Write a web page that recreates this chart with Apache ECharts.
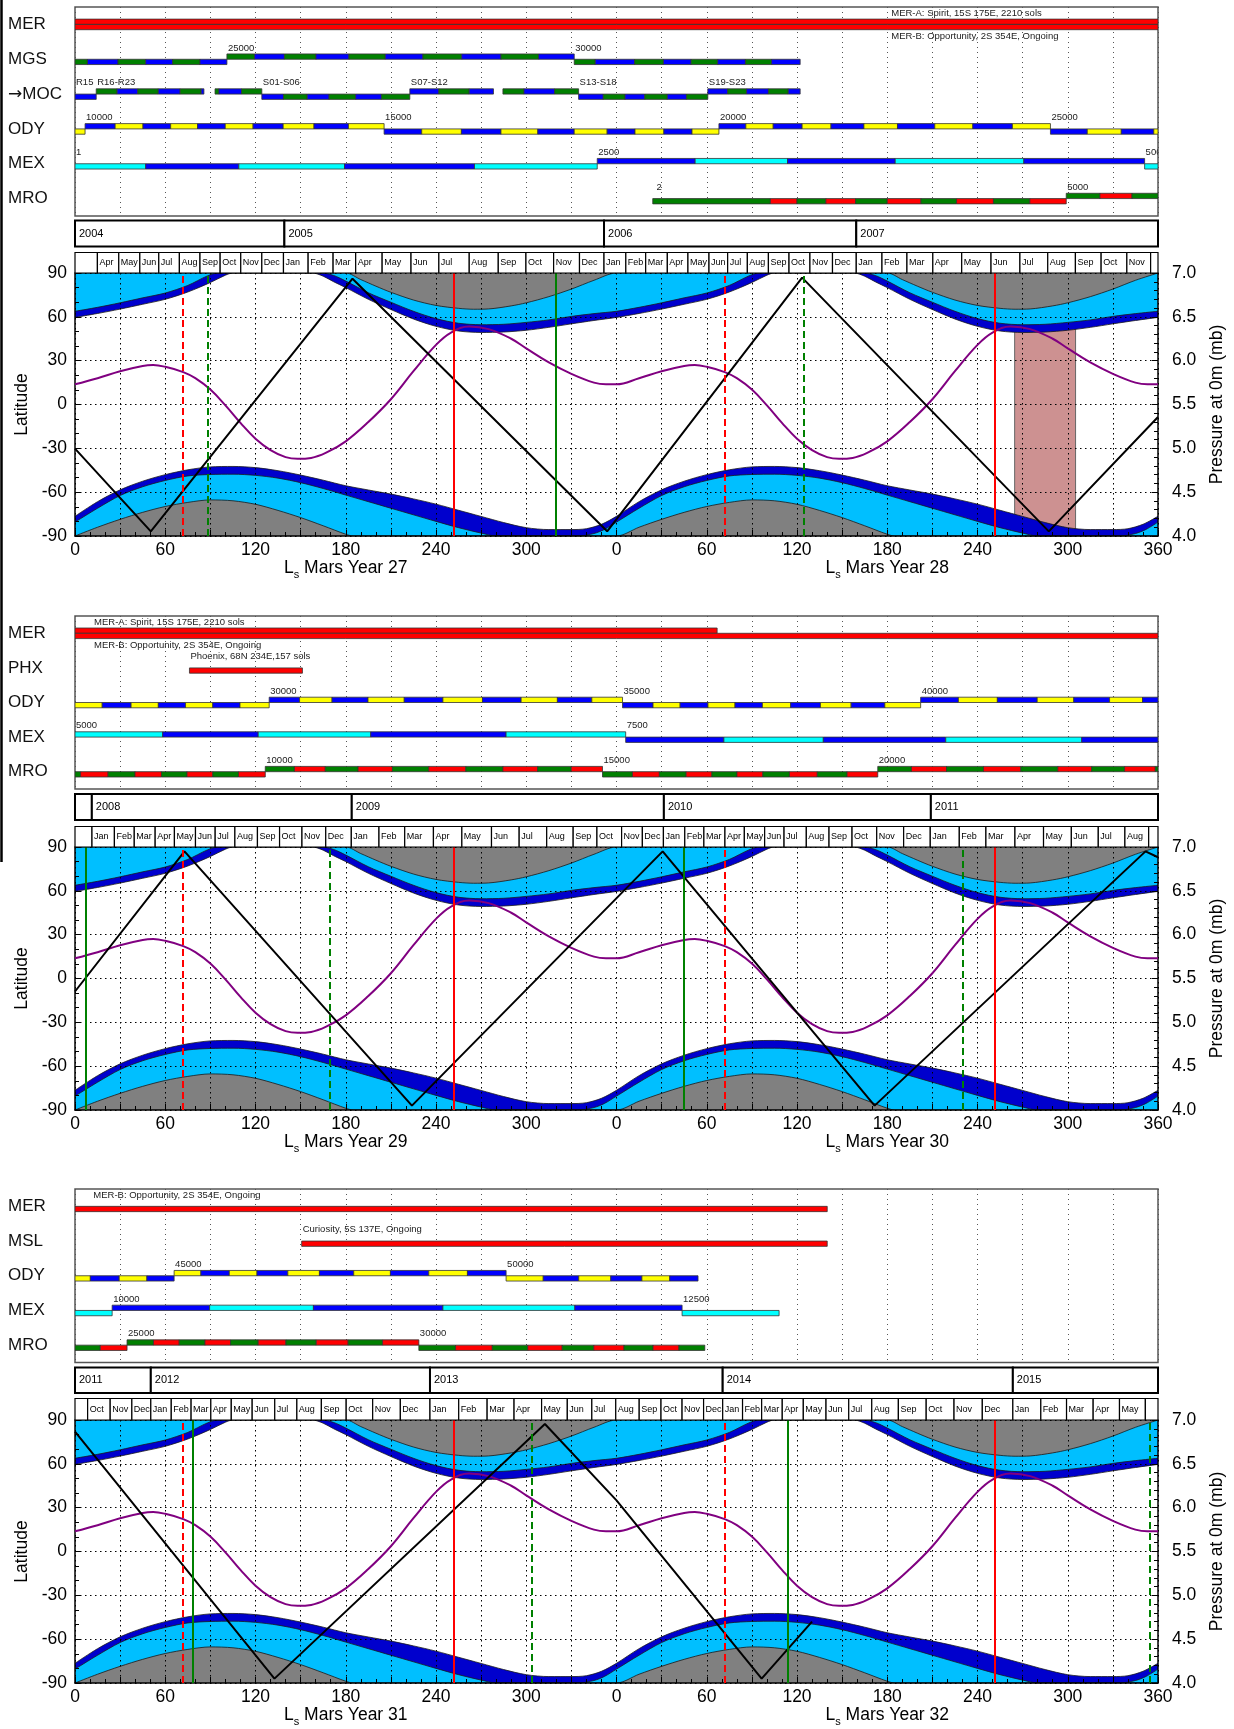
<!DOCTYPE html>
<html>
<head>
<meta charset="utf-8">
<script src="https://cdn.jsdelivr.net/npm/echarts@6.0.0/dist/echarts.min.js"></script>
<style>
  html, body { margin: 0; padding: 0; background: #fff; }
  #chart { width: 1234px; height: 1729px; }
</style>
</head>
<body>
<div id="chart"></div>
<script>
// ---------------- shared Mars-year climatology (Ls 0..360) ----------------
const northOuter = [[0,59.6],[15,62.3],[30,65.3],[45,68.6],[60,72.0],[75,77.0],[90,83.5],[100,88.5],[105,90],[158,90],[165,87.8],[172,84.0],[180,80.0],[195,72.0],[210,65.0],[225,58.5],[240,53.5],[255,50.3],[270,49.3],[285,49.6],[300,50.8],[315,52.8],[330,55.2],[345,57.5],[360,59.6]];
const northInner = [[0,63.8],[15,66.5],[30,69.6],[45,73.0],[60,76.3],[75,81.5],[88,88.0],[95,90],[164,90],[172,88.3],[180,84.5],[195,76.5],[210,70.0],[225,63.8],[240,58.8],[255,55.6],[270,54.6],[285,54.9],[300,56.2],[315,57.9],[330,60.3],[345,62.2],[360,63.8]];
const northGrey  = [[0,90],[180,90],[190,85.5],[200,81.0],[210,76.8],[225,71.5],[240,67.8],[255,65.8],[265,65.2],[275,65.4],[290,67.5],[300,69.6],[315,73.8],[330,79.0],[345,85.0],[360,90]];
const southOuter = [[0,-76.5],[15,-66.5],[30,-58.4],[45,-52.5],[60,-48.0],[75,-44.7],[90,-42.7],[105,-42.4],[120,-43.2],[135,-45.3],[150,-48.3],[165,-51.8],[180,-55.6],[195,-58.5],[210,-61.3],[225,-64.6],[240,-68.2],[255,-72.4],[270,-76.6],[285,-80.8],[300,-84.3],[315,-85.6],[330,-85.6],[340,-85.0],[350,-82.0],[360,-76.5]];
const southInner = [[0,-80.5],[15,-71.0],[30,-62.3],[45,-56.3],[60,-52.0],[75,-48.9],[90,-47.9],[105,-47.7],[120,-48.5],[135,-50.4],[150,-53.5],[165,-57.5],[180,-62.0],[195,-66.5],[210,-71.0],[225,-75.5],[240,-80.0],[255,-84.3],[270,-88.0],[280,-90],[335,-90],[345,-88.3],[352,-85.5],[360,-80.5]];
const southGrey  = [[0,-90],[15,-84.0],[30,-78.6],[45,-73.8],[60,-69.8],[75,-67.0],[90,-65.3],[105,-65.9],[120,-68.3],[135,-72.5],[150,-77.4],[165,-83.0],[180,-88.8],[185,-90],[360,-90]];
const pressure   = [[0,5.73],[15,5.80],[30,5.88],[45,5.94],[52,5.95],[60,5.93],[72,5.87],[80,5.80],[90,5.67],[100,5.49],[110,5.29],[120,5.11],[130,4.98],[140,4.90],[148,4.88],[157,4.89],[167,4.95],[180,5.08],[195,5.30],[210,5.56],[225,5.88],[240,6.18],[250,6.32],[262,6.39],[275,6.36],[290,6.25],[300,6.14],[315,5.98],[330,5.85],[345,5.75],[353,5.73],[360,5.73]];
const aphelionLs   = [71.8, 431.8];
const perihelionLs = [251.6, 611.6];
const MONTHS = ['Jan','Feb','Mar','Apr','May','Jun','Jul','Aug','Sep','Oct','Nov','Dec'];

// ---------------- panel 1: Mars years 27-28 ----------------
const p1Rows = ['MER', 'MGS', '→MOC', 'ODY', 'MEX', 'MRO'];
const p1MerA = [0, 720];
const p1MerB = [0, 720];
const p1MgsEdges = [0, 8.3, 28.6, 47.0, 64.9, 83.1, 101.0, 119.4, 139.2, 160.2, 182.1, 206.3, 231.3, 257.1, 283.2, 308.2, 331.9, 345.9, 372.0, 391.2, 409.6, 427.3, 445.7, 463.1, 482.1];
const p1MgsColours = 'gbgbgb' + 'gbgbgbgbgb' + 'gbgbgbgb';
const p1MgsLevels  = '000000' + '1111111111' + '00000000';
const p1MocEdges = [0, 14.1, 28.0, 41.7, 55.4, 69.9, 83.9, 85.7, 93.1, 95.7, 110.7, 124.2, 138.6, 154.4, 168.9, 186.6, 203.7, 222.6, 241.9, 262.1, 278.2, 284.5, 298.5, 318.8, 334.8, 351.2, 365.7, 378.8, 393.8, 406.5, 420.7, 433.9, 446.5, 461.0, 474.2, 482.1];
const p1MocColours = 'bgbgbgb-gbg' + 'bgbgbg' + 'bgb-gbg' + 'bgbgbg' + 'bgbgb';
const p1MocLevels  = '01111111111' + '000000' + '1111111' + '000000' + '11111';
const p1OdyEdges = [0, 6.7, 26.7, 45.2, 63.6, 81.5, 99.9, 118.4, 138.4, 158.9, 181.8, 205.5, 230.5, 256.9, 283.2, 307.7, 331.9, 353.8, 372.3, 391.5, 410.2, 428.1, 446.0, 464.2, 483.4, 502.6, 524.5, 546.8, 571.6, 596.9, 623.2, 648.5, 673.0, 695.6, 717.2, 720];
const p1OdyColours = 'y' + 'bybybybyby' + 'bybybybyby' + 'bybybybyby' + 'byby';
const p1OdyLevels  = '0' + '1111111111' + '0000000000' + '1111111111' + '0000';
const p1MexEdges = [0, 47.0, 108.9, 179.2, 265.6, 347.2, 412.3, 473.7, 545.3, 630.8, 711.1, 720];
const p1MexColours = 'cbcbc' + 'bcbcb' + 'c';
const p1MexLevels  = '00000' + '11111' + '0';
const p1MroEdges = [384.1, 462.3, 480.0, 499.2, 518.9, 540.0, 562.4, 586.1, 610.6, 634.8, 659.0, 681.4, 702.7, 720];
const p1MroColours = 'grgrgrgrgr' + 'grg';
const p1MroLevels  = '0000000000' + '111';
const p1Tags = [[1, 101.0, '25000'], [1, 331.9, '30000'], [2, 0, 'R15'], [2, 14.1, 'R16-R23'], [2, 124.2, 'S01-S06'], [2, 222.6, 'S07-S12'], [2, 334.8, 'S13-S18'], [2, 420.7, 'S19-S23'], [3, 6.7, '10000'], [3, 205.5, '15000'], [3, 428.1, '20000'], [3, 648.5, '25000'], [4, 0, '1'], [4, 347.2, '2500'], [4, 711.1, '5000'], [5, 386, '2'], [5, 659.0, '5000']];
const p1Notes = [[0, 542, 'up', 'MER-A: Spirit, 15S 175E, 2210 sols'], [0, 542, 'down', 'MER-B: Opportunity, 2S 354E, Ongoing']];
const p1YearEdges = [0, 139.2, 351.7, 519.4, 720];
const p1YearLabels = ['2004', '2005', '2006', '2007'];
const p1MonthEdges = [0, 14.9, 29.1, 43.1, 55.7, 69.4, 83.1, 96.5, 110.2, 124.2, 138.6, 155.0, 171.6, 186.6, 204.2, 223.4, 241.9, 262.1, 281.4, 299.8, 318.2, 335.4, 351.7, 366.2, 379.4, 393.8, 407.5, 421.5, 433.9, 447.0, 461.0, 474.7, 488.6, 503.6, 519.4, 536.5, 553.1, 570.3, 589.5, 609.0, 628.2, 646.7, 665.1, 682.2, 699.3, 715.1, 720];
const p1MonthLabels = ['', ...MONTHS.slice(3), ...MONTHS, ...MONTHS, ...MONTHS.slice(0, 11), ''];
const p1Track = [[0,-30.2],[50.4,-86.8],[184.5,86.1],[353.8,-86.8],[483.4,86.8],[647.4,-86.8],[720,-8.6]];
const p1GreenSolid = [319.3];
const p1GreenDash = [88.3, 484.4];
const p1Shade = [624.7, 665.2];

// ---------------- panel 2: Mars years 29-30 ----------------
const p2Rows = ['MER', 'PHX', 'ODY', 'MEX', 'MRO'];
const p2MerA = [0, 426.9];
const p2MerB = [0, 720];
const p2Phx = [76.1, 151.2];
const p2OdyEdges = [0, 18.1, 37.3, 55.4, 73.5, 91.6, 109.7, 129.1, 149.3, 170.9, 194.8, 218.9, 244.6, 270.9, 296.6, 320.7, 343.6, 364.0, 384.3, 402.3, 420.8, 438.8, 457.0, 475.8, 495.6, 516.0, 538.4, 562.2, 587.3, 613.2, 639.7, 664.0, 687.8, 709.7, 720];
const p2OdyColours = 'ybybyby' + 'bybybybyby' + 'bybybybyby' + 'bybybyb';
const p2OdyLevels  = '0000000' + '1111111111' + '0000000000' + '1111111';
const p2MexEdges = [0, 58.3, 121.8, 196.6, 286.6, 366.1, 431.4, 497.5, 578.9, 669.3, 720];
const p2MexColours = 'cbcbc' + 'bcbcb';
const p2MexLevels  = '11111' + '00000';
const p2MroEdges = [0, 3.7, 22.0, 39.9, 57.5, 74.5, 91.6, 108.7, 126.5, 145.9, 166.4, 188.2, 211.0, 235.2, 259.8, 284.5, 307.6, 329.9, 350.7, 370.6, 388.5, 406.3, 423.4, 440.1, 457.3, 475.0, 493.5, 513.3, 533.7, 556.1, 579.4, 604.0, 628.8, 653.4, 675.9, 697.8, 718.2, 720];
const p2MroColours = 'grgrgrgr' + 'grgrgrgrgr' + 'grgrgrgrgr' + 'grgrgrgrg';
const p2MroLevels  = '00000000' + '1111111111' + '0000000000' + '111111111';
const p2Tags = [[2, 129.1, '30000'], [2, 364.0, '35000'], [2, 562.2, '40000'], [3, 0, '5000'], [3, 366.1, '7500'], [4, 126.5, '10000'], [4, 350.7, '15000'], [4, 533.7, '20000']];
const p2Notes = [[0, 12, 'up', 'MER-A: Spirit, 15S 175E, 2210 sols'], [0, 12, 'down', 'MER-B: Opportunity, 2S 354E, Ongoing'], [1, 76.1, 'up', 'Phoenix, 68N 234E,157 sols']];
const p2YearEdges = [0, 11.2, 184.0, 391.5, 569.0, 720];
const p2YearLabels = ['', '2008', '2009', '2010', '2011'];
const p2MonthEdges = [0, 11.3, 26.2, 39.4, 53.3, 66.1, 80.1, 93.2, 106.3, 121.3, 136.0, 150.9, 166.7, 183.7, 202.1, 219.2, 238.3, 257.2, 276.9, 295.3, 313.6, 331.2, 347.0, 363.4, 377.2, 391.2, 405.4, 418.1, 432.1, 445.0, 458.5, 471.4, 486.2, 501.3, 516.6, 533.0, 550.9, 568.6, 587.9, 605.6, 624.9, 643.9, 662.4, 680.3, 698.0, 713.8, 720];
const p2MonthLabels = ['', ...MONTHS, ...MONTHS, ...MONTHS, ...MONTHS.slice(0, 8), ''];
const p2Track = [[0,-8.9],[72.8,87],[224,-87],[390.7,87],[531.6,-87],[711.7,87],[720,83]];
const p2GreenSolid = [7.3, 404.4];
const p2GreenDash = [169.3, 590.3];

// ---------------- panel 3: Mars years 31-32 ----------------
const p3Rows = ['MER', 'MSL', 'ODY', 'MEX', 'MRO'];
const p3MerB = [0, 500.1];
const p3Msl = [150.7, 500.1];
const p3OdyEdges = [0, 10.2, 29.4, 47.8, 65.9, 83.7, 102.6, 121.0, 141.5, 162.5, 185.3, 209.7, 235.2, 260.9, 286.6, 311.3, 334.9, 356.2, 376.9, 395.4, 414.2];
const p3OdyColours = 'ybyb' + 'ybybybybyb' + 'ybybyb';
const p3OdyLevels  = '0000' + '1111111111' + '000000';
const p3MexEdges = [0, 24.7, 89.5, 158.5, 244.6, 332.3, 403.6, 468.1];
const p3MexColours = 'c' + 'bcbcb' + 'c';
const p3MexLevels  = '0' + '11111' + '0';
const p3MroEdges = [0, 16.8, 34.6, 52.2, 69.3, 86.4, 103.4, 121.8, 140.2, 160.4, 181.6, 204.5, 228.6, 253.0, 277.4, 301.0, 323.9, 344.9, 365.0, 384.3, 401.5, 418.7];
const p3MroColours = 'gr' + 'grgrgrgrgr' + 'grgrgrgrg';
const p3MroLevels  = '00' + '1111111111' + '000000000';
const p3Tags = [[2, 65.9, '45000'], [2, 286.6, '50000'], [3, 24.7, '10000'], [3, 403.6, '12500'], [4, 34.6, '25000'], [4, 228.6, '30000']];
const p3Notes = [[0, 11.5, 'up', 'MER-B: Opportunity, 2S 354E, Ongoing'], [1, 150.7, 'up', 'Curiosity, 5S 137E, Ongoing']];
const p3YearEdges = [0, 50.4, 236.0, 430.6, 623.5, 720];
const p3YearLabels = ['2011', '2012', '2013', '2014', '2015'];
const p3MonthEdges = [0, 8.4, 23.4, 37.8, 50.4, 64.0, 77.2, 90.3, 103.9, 117.8, 132.8, 147.5, 163.8, 180.3, 197.9, 216.3, 236.0, 255.1, 274.0, 291.9, 310.2, 327.3, 343.6, 359.5, 375.1, 389.6, 403.6, 417.9, 430.6, 443.8, 456.5, 470.2, 484.2, 499.3, 514.4, 529.7, 547.4, 565.9, 584.4, 603.2, 623.5, 642.1, 659.2, 676.9, 694.4, 711.6, 720];
const p3MonthLabels = ['', ...MONTHS.slice(9), ...MONTHS, ...MONTHS, ...MONTHS, ...MONTHS.slice(0, 5), ''];
const p3Track = [[0,82],[132.6,-87],[312.4,87.3],[360,35],[456.5,-87],[490,-48]];
const p3GreenSolid = [78.4, 473.7];
const p3GreenDash = [303.4, 714.6];

// ---------------- helpers ----------------
const FONT = 'Liberation Sans, Arial, Helvetica, sans-serif';
const COLOURS = { r: '#ff0000', g: '#008000', b: '#0000ff', y: '#ffff00', c: '#00ffff' };
const L = 75, W = 1083, BAR_H = 5.3;

function segs(row, edges, colours, levels) {
  const out = [];
  for (let i = 0; i < edges.length - 1; i++) {
    if (colours[i] === '-') continue;
    out.push({ row: row, x0: edges[i], x1: edges[i + 1], c: colours[i], lvl: +levels[i] });
  }
  return out;
}
function twoYears(arr) {
  return arr.concat(arr.slice(1).map(d => [d[0] + 360, d[1]]));
}

const panels = [
  {
    rows: p1Rows,
    segs: [].concat(
      segs(0, p1MerA, 'r', '1'), segs(0, p1MerB, 'r', '0'),
      segs(1, p1MgsEdges, p1MgsColours, p1MgsLevels),
      segs(2, p1MocEdges, p1MocColours, p1MocLevels),
      segs(3, p1OdyEdges, p1OdyColours, p1OdyLevels),
      segs(4, p1MexEdges, p1MexColours, p1MexLevels),
      segs(5, p1MroEdges, p1MroColours, p1MroLevels)),
    tags: p1Tags, notes: p1Notes,
    yearEdges: p1YearEdges, yearLabels: p1YearLabels, monthEdges: p1MonthEdges, monthLabels: p1MonthLabels,
    track: p1Track, greenSolid: p1GreenSolid, greenDash: p1GreenDash, shade: p1Shade, years: [27, 28],
    box: { tlTop: 7, tlH: 209, hdTop: 220.5, hdH: 52.5, yearH: 26, monthTop: 32, plTop: 273, plH: 263 }
  },
  {
    rows: p2Rows,
    segs: [].concat(
      segs(0, p2MerA, 'r', '1'), segs(0, p2MerB, 'r', '0'),
      segs(1, p2Phx, 'r', '0'),
      segs(2, p2OdyEdges, p2OdyColours, p2OdyLevels),
      segs(3, p2MexEdges, p2MexColours, p2MexLevels),
      segs(4, p2MroEdges, p2MroColours, p2MroLevels)),
    tags: p2Tags, notes: p2Notes,
    yearEdges: p2YearEdges, yearLabels: p2YearLabels, monthEdges: p2MonthEdges, monthLabels: p2MonthLabels,
    track: p2Track, greenSolid: p2GreenSolid, greenDash: p2GreenDash, shade: null, years: [29, 30],
    box: { tlTop: 616, tlH: 173, hdTop: 794, hdH: 53, yearH: 26, monthTop: 32.5, plTop: 847, plH: 263 }
  },
  {
    rows: p3Rows,
    segs: [].concat(
      segs(0, p3MerB, 'r', '0'),
      segs(1, p3Msl, 'r', '0'),
      segs(2, p3OdyEdges, p3OdyColours, p3OdyLevels),
      segs(3, p3MexEdges, p3MexColours, p3MexLevels),
      segs(4, p3MroEdges, p3MroColours, p3MroLevels)),
    tags: p3Tags, notes: p3Notes,
    yearEdges: p3YearEdges, yearLabels: p3YearLabels, monthEdges: p3MonthEdges, monthLabels: p3MonthLabels,
    track: p3Track, greenSolid: p3GreenSolid, greenDash: p3GreenDash, shade: null, years: [31, 32],
    box: { tlTop: 1189, tlH: 173.5, hdTop: 1367.5, hdH: 52.5, yearH: 25.5, monthTop: 31, plTop: 1420, plH: 263 }
  }
];

const option = {
  animation: false,
  backgroundColor: '#fff',
  grid: [], xAxis: [], yAxis: [], series: [],
  graphic: [{ type: 'line', shape: { x1: 1.5, y1: 0, x2: 1.5, y2: 862 }, style: { stroke: '#000', lineWidth: 2.5 } }]
};

panels.forEach((pn, p) => {
  const b = pn.box;
  const gx = 3 * p, gy = 4 * p;
  option.grid.push({ left: L, width: W, top: b.tlTop, height: b.tlH, show: true, borderColor: '#555', borderWidth: 1.5, backgroundColor: '#fff' });
  option.grid.push({ left: L, width: W, top: b.hdTop, height: b.hdH });
  option.grid.push({ left: L, width: W, top: b.plTop, height: b.plH });

  // timeline axes
  option.xAxis.push({ gridIndex: gx, type: 'value', min: 0, max: 720, interval: 30,
    axisLine: { show: false, onZero: false }, axisTick: { show: false }, axisLabel: { show: false },
    splitLine: { show: true, lineStyle: { color: '#555', type: [1, 4], width: 1 } } });
  option.yAxis.push({ gridIndex: gx, type: 'category', data: pn.rows, inverse: true,
    axisLine: { show: false }, axisTick: { show: false }, splitLine: { show: false },
    axisLabel: { fontSize: 17, fontFamily: FONT, color: '#111', align: 'left', margin: 67,
      formatter: v => (v.charAt(0) === '→' ? '{a|→}' + v.slice(1) : v),
      rich: { a: { fontSize: 17, fontFamily: 'DejaVu Sans', color: '#111' } } } });
  // header axes
  option.xAxis.push({ gridIndex: gx + 1, type: 'value', min: 0, max: 720, show: false });
  option.yAxis.push({ gridIndex: gx + 1, type: 'value', min: 0, max: 1, inverse: true, show: false });
  // plot axes
  option.xAxis.push({ gridIndex: gx + 2, type: 'value', min: 0, max: 720, interval: 30, z: 3,
    axisLine: { show: true, onZero: false, lineStyle: { color: '#000', width: 1.5 } },
    axisTick: { show: true, inside: true, length: 6, lineStyle: { color: '#000' } },
    minorTick: { show: true, splitNumber: 3, length: 4, lineStyle: { color: '#000' } },
    axisLabel: { fontSize: 17.5, fontFamily: FONT, color: '#000', margin: 5,
      formatter: v => (v % 60 ? '' : (v === 720 ? '360' : String(v % 360))) },
    splitLine: { show: true, lineStyle: { color: '#000', type: [1.5, 3.5], width: 1 } } });
  option.yAxis.push({ gridIndex: gx + 2, type: 'value', min: -90, max: 90, interval: 30, position: 'left', z: 3,
    axisLine: { show: true, onZero: false, lineStyle: { color: '#000', width: 1.5 } },
    axisTick: { show: true, inside: true, length: 6, lineStyle: { color: '#000' } },
    minorTick: { show: true, splitNumber: 3, length: 4, lineStyle: { color: '#000' } },
    axisLabel: { fontSize: 17.5, fontFamily: FONT, color: '#000', margin: 8 },
    splitLine: { show: true, lineStyle: { color: '#000', type: [1.5, 3.5], width: 1 } },
    name: 'Latitude', nameLocation: 'middle', nameRotate: 90, nameGap: 44,
    nameTextStyle: { fontSize: 17.5, fontFamily: FONT, color: '#000' } });
  option.yAxis.push({ gridIndex: gx + 2, type: 'value', min: 4, max: 7, interval: 0.5, position: 'right', z: 3,
    axisLine: { show: true, onZero: false, lineStyle: { color: '#000', width: 1.5 } },
    axisTick: { show: true, inside: true, length: 6, lineStyle: { color: '#000' } },
    minorTick: { show: true, splitNumber: 5, length: 4, lineStyle: { color: '#000' } },
    axisLabel: { fontSize: 17.5, fontFamily: FONT, color: '#000', margin: 14, formatter: v => v.toFixed(1) },
    splitLine: { show: false },
    name: 'Pressure at 0m (mb)', nameLocation: 'middle', nameRotate: 90, nameGap: 50,
    nameTextStyle: { fontSize: 17.5, fontFamily: FONT, color: '#000' } });

  // timeline bars
  const sg = pn.segs;
  option.series.push({ type: 'custom', xAxisIndex: gx, yAxisIndex: gy, silent: true, clip: true, z: 3,
    encode: { x: [0, 1], y: 2 },
    data: sg.map(s => [s.x0, s.x1, s.row]),
    renderItem: (params, api) => {
      const s = sg[params.dataIndex];
      const a = api.coord([s.x0, s.row]);
      const c = api.coord([s.x1, s.row]);
      return { type: 'rect', shape: { x: a[0], y: s.lvl ? a[1] - BAR_H : a[1], width: c[0] - a[0], height: BAR_H },
        style: { fill: COLOURS[s.c], stroke: '#333', lineWidth: 0.8 } };
    } });

  // timeline texts (orbit numbers, mission notes)
  const texts = pn.tags.map(t => ({ row: t[0], x: t[1], side: 'up', text: t[2] }))
    .concat(pn.notes.map(n => ({ row: n[0], x: n[1], side: n[2], text: n[3] })));
  option.series.push({ type: 'custom', xAxisIndex: gx, yAxisIndex: gy, silent: true, clip: true, z: 4,
    data: texts.map(t => [t.x, t.row]),
    renderItem: (params, api) => {
      const t = texts[params.dataIndex];
      const c = api.coord([t.x, t.row]);
      const up = t.side === 'up';
      return { type: 'text', x: c[0] + 1, y: up ? c[1] - BAR_H - 1 : c[1] + BAR_H + 2,
        style: { text: t.text, font: '9.5px ' + FONT, fill: '#222', align: 'left', verticalAlign: up ? 'bottom' : 'top' } };
    } });

  // year + month strips
  const yf = b.yearH / b.hdH, mf = b.monthTop / b.hdH;
  const boxes = [];
  pn.yearLabels.forEach((t, i) => boxes.push({ x0: pn.yearEdges[i], x1: pn.yearEdges[i + 1], y0: 0, y1: yf, text: t, font: '11px ' + FONT, lw: 2, pad: 4 }));
  pn.monthLabels.forEach((t, i) => boxes.push({ x0: pn.monthEdges[i], x1: pn.monthEdges[i + 1], y0: mf, y1: 1, text: t, font: '9px ' + FONT, lw: 1.2, pad: 2 }));
  option.series.push({ type: 'custom', xAxisIndex: gx + 1, yAxisIndex: gy + 1, silent: true, z: 5,
    encode: { x: [0, 1], y: 2 },
    data: boxes.map(q => [q.x0, q.x1, q.y0]),
    renderItem: (params, api) => {
      const q = boxes[params.dataIndex];
      const a = api.coord([q.x0, q.y0]);
      const c = api.coord([q.x1, q.y1]);
      return { type: 'group', children: [
        { type: 'rect', shape: { x: a[0], y: a[1], width: c[0] - a[0], height: c[1] - a[1] },
          style: { fill: '#fff', stroke: '#000', lineWidth: q.lw } },
        { type: 'text', x: a[0] + q.pad, y: (a[1] + c[1]) / 2,
          style: { text: q.text, font: q.font, fill: '#000', align: 'left', verticalAlign: 'middle' } }
      ] };
    } });

  // polar cap areas
  const area = (data, colour, origin) => ({
    type: 'line', xAxisIndex: gx + 2, yAxisIndex: gy + 2, data: twoYears(data), smooth: 0.3,
    showSymbol: false, symbol: 'none', silent: true, z: 2,
    lineStyle: { color: '#1a1a1a', width: 0.8 },
    areaStyle: { color: colour, opacity: 1, origin: origin }
  });
  option.series.push(area(northOuter, '#0000cd', 'end'));
  option.series.push(area(northInner, '#00bfff', 'end'));
  option.series.push(area(northGrey, '#808080', 'end'));
  option.series.push(area(southOuter, '#0000cd', 'start'));
  option.series.push(area(southInner, '#00bfff', 'start'));
  option.series.push(area(southGrey, '#808080', 'start'));

  // surface pressure
  const purple = { type: 'line', xAxisIndex: gx + 2, yAxisIndex: gy + 3, data: twoYears(pressure), smooth: 0.4,
    showSymbol: false, symbol: 'none', silent: true, z: 4, lineStyle: { color: '#800080', width: 2 } };
  if (pn.shade) {
    purple.markArea = { silent: true, data: [[
      { xAxis: pn.shade[0], itemStyle: { color: 'rgba(160,45,45,0.52)', borderColor: '#666', borderWidth: 1 } },
      { xAxis: pn.shade[1] }]] };
  }
  option.series.push(purple);

  // track line + season markers
  const ml = [];
  aphelionLs.forEach(v => ml.push({ xAxis: v, lineStyle: { color: '#ff0000', type: [7, 4], width: 2 } }));
  perihelionLs.forEach(v => ml.push({ xAxis: v, lineStyle: { color: '#ff0000', type: 'solid', width: 2 } }));
  pn.greenDash.forEach(v => ml.push({ xAxis: v, lineStyle: { color: '#008000', type: [7, 4], width: 2 } }));
  pn.greenSolid.forEach(v => ml.push({ xAxis: v, lineStyle: { color: '#008000', type: 'solid', width: 2 } }));
  option.series.push({ type: 'line', xAxisIndex: gx + 2, yAxisIndex: gy + 2, data: pn.track,
    showSymbol: false, symbol: 'none', silent: true, z: 4, lineStyle: { color: '#000', width: 2 },
    markLine: { silent: true, symbol: ['none', 'none'], label: { show: false }, animation: false, data: ml } });

  // x-axis titles, one per Mars year
  pn.years.forEach((yr, k) => {
    option.graphic.push({ type: 'text', x: L + W * (0.25 + 0.5 * k), y: b.plTop + b.plH + 32,
      style: { text: '{l|L}{s|s}{l| Mars Year ' + yr + '}', align: 'center', verticalAlign: 'middle', fill: '#000',
        rich: { l: { fontSize: 17.5, fontFamily: FONT, lineHeight: 24, verticalAlign: 'middle' },
                s: { fontSize: 11, fontFamily: FONT, lineHeight: 9, verticalAlign: 'bottom' } } } });
  });
});

const chart = echarts.init(document.getElementById('chart'));
chart.setOption(option);
</script>
</body>
</html>
